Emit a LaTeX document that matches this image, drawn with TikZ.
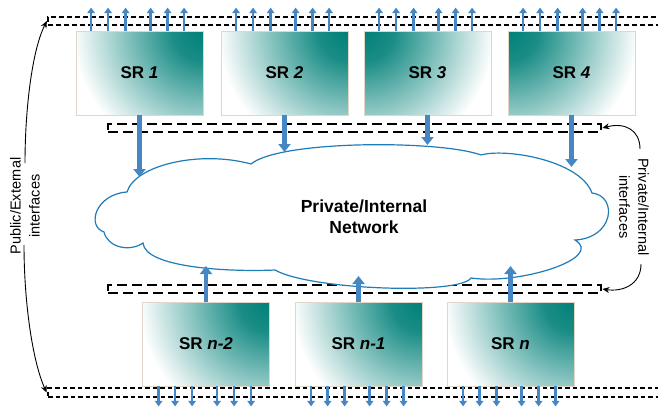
\documentclass[tikz,border=0pt]{standalone}
\usepackage{fontspec}
\setmainfont{Liberation Sans}
\usetikzlibrary{arrows.meta}
\definecolor{srteal}{RGB}{0,128,120}
\definecolor{arrowblue}{RGB}{70,135,195}
\definecolor{cloudblue}{RGB}{30,125,185}
\definecolor{boxedge}{RGB}{225,215,200}
\pgfdeclareradialshading{srshade}{\pgfpoint{0bp}{0bp}}{color(0bp)=(srteal); color(3bp)=(srteal!90); color(13bp)=(white); color(50bp)=(white)}
\begin{document}
\begin{tikzpicture}[x=1pt,y=-1pt,
  srbox/.style={draw=boxedge, line width=0.8pt, minimum width=127pt, minimum height=84pt, inner sep=0pt, font=\fontsize{17}{20}\selectfont\bfseries},
  darkNE/.style={path picture={\shade[shading=srshade] (path picture bounding box.north east) circle (250pt);}},
  darkNW/.style={path picture={\shade[shading=srshade] (path picture bounding box.north west) circle (250pt);}},
  bus/.style={draw=black, inner sep=0pt, minimum height=8pt},
  topbusst/.style={bus, line width=2.2pt, dash pattern=on 5pt off 3pt},
  midbusst/.style={bus, line width=2.8pt, dash pattern=on 10pt off 5pt},
  botbusst/.style={bus, line width=2.8pt, dash pattern=on 4.5pt off 3pt, minimum height=9pt},
  bigarrow/.style={draw=arrowblue, line width=4.5pt, -{Triangle[width=12pt,length=8pt]}},
  smallarrow/.style={draw=arrowblue, line width=2.4pt, -{Triangle[width=7.5pt,length=5.5pt]}},
  ifarrow/.style={draw=black, line width=0.9pt, -{Stealth[width=6pt,length=7pt]}},
  sidelabel/.style={align=center, inner sep=0pt, font=\fontsize{14.5}{19}\selectfont},
]
\useasboundingbox (0,0) rectangle (658,407);
\clip (0,0) rectangle (658,407);

% buses
\node[topbusst, minimum width=620pt] (pubtop) at (358,21) {};
\node[midbusst, minimum width=493pt] (privtop) at (354.5,128) {};
\node[midbusst, minimum width=493pt] (privbot) at (354.5,289) {};
\node[botbusst, minimum width=620pt] (pubbot) at (358,392.5) {};

% cloud
\draw[cloudblue, line width=1.2pt, fill=white]
 (104,232) .. controls (86,226) and (96,194) .. (127,192)
 .. controls (135,165) and (200,150) .. (251,164)
 .. controls (280,140) and (440,140) .. (481,155)
 .. controls (505,148) and (580,160) .. (592,193)
 .. controls (618,196) and (614,238) .. (575,240)
 .. controls (605,258) and (520,285) .. (471,278)
 .. controls (460,295) and (310,290) .. (275,270)
 .. controls (230,272) and (145,268) .. (143,243)
 .. controls (130,252) and (108,248) .. (104,232) -- cycle;
\node[font=\fontsize{17.5}{21}\selectfont\bfseries, align=center] (net) at (364,217) {Private/Internal\\Network};

% SR boxes
\node[srbox, darkNE] (sr1) at (139.5,73) {SR \textit{1}};
\node[srbox, darkNE] (sr2) at (284.5,73) {SR \textit{2}};
\node[srbox, darkNW] (sr3) at (427.5,73) {SR \textit{3}};
\node[srbox, darkNW] (sr4) at (571.5,73) {SR \textit{4}};
\node[srbox, darkNE] (srn2) at (206,344) {SR \textit{n-2}};
\node[srbox, darkNE] (srn1) at (358.5,344) {SR \textit{n-1}};
\node[srbox, darkNE] (srn) at (510.5,344) {SR \textit{n}};

% arrow targets on the cloud
\coordinate (in1) at (139.5,177);
\coordinate (in2) at (284.5,152);
\coordinate (in3) at (427.5,145);
\coordinate (in4) at (571.5,167);
\coordinate (out1) at (206,266);
\coordinate (out2) at (358.5,276);
\coordinate (out3) at (510.5,266);

\draw[bigarrow] (sr1) -- (in1);
\draw[bigarrow] (sr2) -- (in2);
\draw[bigarrow] (sr3) -- (in3);
\draw[bigarrow] (sr4) -- (in4);
\draw[bigarrow] (srn2) -- (out1);
\draw[bigarrow] (srn1) -- (out2);
\draw[bigarrow] (srn) -- (out3);

% external interface arrows
\foreach \s in {sr1,sr2,sr3,sr4}
  \foreach \o in {15.5,32.5,50,75,92,108.5}
    \draw[smallarrow] ([xshift=\o pt]\s.north west) -- ++(0,-23);
\foreach \s in {srn2,srn1,srn}
  \foreach \o in {16.5,33,50,75,92,109}
    \draw[smallarrow] ([xshift=\o pt]\s.south west) -- ++(0,20);

% side labels
\node[sidelabel, rotate=90] (publbl) at (25,206) {Public/External\\interfaces};
\node[sidelabel, rotate=-90] (privlbl) at (634,207) {Private/Internal\\interfaces};
\coordinate (pubA) at (25,163);
\coordinate (pubB) at (24,245);
\coordinate (privA) at (640,149);
\coordinate (privB) at (641,264);
\draw[ifarrow] (pubA) .. controls (25,110) and (32,50) .. (pubtop.west);
\draw[ifarrow] (pubB) .. controls (24,300) and (32,360) .. (pubbot.west);
\draw[ifarrow] (privA) .. controls (640,130) and (625,122) .. (privtop.east);
\draw[ifarrow] (privB) .. controls (641,285) and (622,292) .. (privbot.east);
\end{tikzpicture}
\end{document}
